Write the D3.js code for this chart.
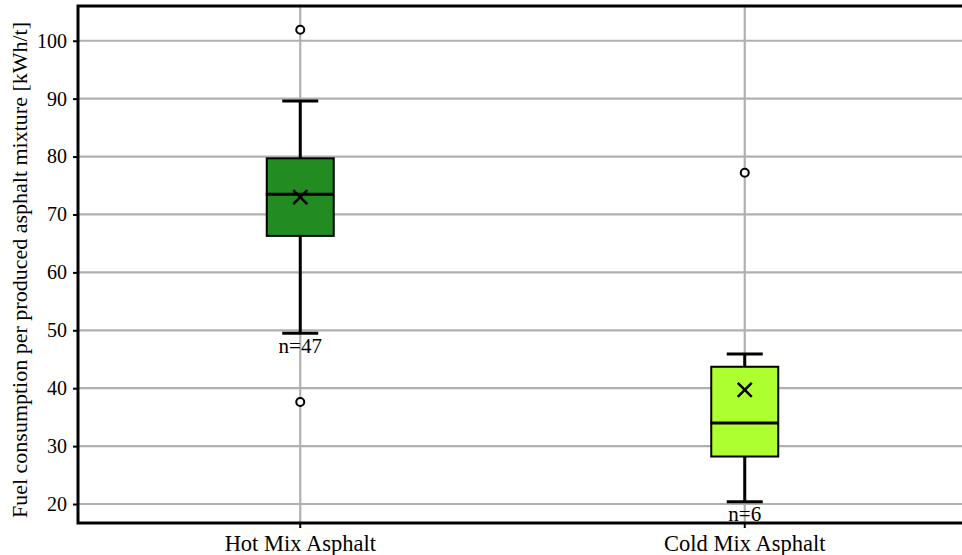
<!DOCTYPE html>
<html><head><meta charset="utf-8">
<script src="https://cdn.jsdelivr.net/npm/d3@7"></script>
<style>body{margin:0;background:#fff}svg{display:block}text{font-family:"Liberation Serif","Times New Roman",serif}</style>
</head><body>
<svg id="c" width="962" height="555"></svg>
<script>
const categories = ["Hot Mix Asphalt", "Cold Mix Asphalt"];
const whiskerLow = [49.5, 20.4];
const q1 = [66.3, 28.2];
const median = [73.5, 34.0];
const q3 = [79.7, 43.7];
const whiskerHigh = [89.6, 45.9];
const mean = [73.0, 39.7];
const outliers = [[101.9, 37.6], [77.2]];
const counts = ["n=47", "n=6"];
const colors = ["#228b22", "#adff2f"];
const yTicks = [20, 30, 40, 50, 60, 70, 80, 90, 100];

const svg = d3.select("#c");
const L = 78, R = 967, T = 6, B = 523;
const x = d3.scaleBand().domain(categories).range([L, R]);
const y = d3.scaleLinear().domain([16.72, 106.0]).range([B, T]);
const cx = c => x(c) + x.bandwidth() / 2;

// grid
svg.append("g").selectAll("line").data(yTicks).join("line")
  .attr("x1", L).attr("x2", R).attr("y1", d => y(d)).attr("y2", d => y(d))
  .attr("stroke", "#b0b0b0").attr("stroke-width", 2.2);
svg.append("g").selectAll("line").data(categories).join("line")
  .attr("x1", cx).attr("x2", cx).attr("y1", T).attr("y2", B)
  .attr("stroke", "#b0b0b0").attr("stroke-width", 2.2);

// axes
const ya = svg.append("g").attr("transform", `translate(${L},0)`)
  .call(d3.axisLeft(y).tickValues(yTicks).tickSize(5).tickPadding(6));
ya.attr("font-family", null);
ya.select(".domain").remove();
ya.selectAll(".tick line").attr("stroke", "#000").attr("stroke-width", 2);
ya.selectAll(".tick text").attr("font-size", 20).attr("fill", "#000");

const xa = svg.append("g").attr("transform", `translate(0,${B})`)
  .call(d3.axisBottom(x).tickSize(5));
xa.attr("font-family", null);
xa.select(".domain").remove();
xa.selectAll(".tick line").attr("stroke", "#000").attr("stroke-width", 2);
xa.selectAll(".tick text").attr("font-size", 22.5).attr("fill", "#000")
  .attr("y", 28).attr("dy", 0);

svg.append("text").attr("transform", `translate(27,270) rotate(-90)`)
  .attr("text-anchor", "middle").attr("font-size", 22)
  .text("Fuel consumption per produced asphalt mixture [kWh/t]");

// boxes
const bw = 67, cw = 36;
categories.forEach((c, i) => {
  const g = svg.append("g");
  const X = cx(c);
  g.append("line").attr("x1", X).attr("x2", X).attr("y1", y(whiskerHigh[i])).attr("y2", y(q3[i]))
    .attr("stroke", "#000").attr("stroke-width", 3);
  g.append("line").attr("x1", X).attr("x2", X).attr("y1", y(q1[i])).attr("y2", y(whiskerLow[i]))
    .attr("stroke", "#000").attr("stroke-width", 3);
  [whiskerHigh[i], whiskerLow[i]].forEach(v => g.append("line")
    .attr("x1", X - cw / 2).attr("x2", X + cw / 2).attr("y1", y(v)).attr("y2", y(v))
    .attr("stroke", "#000").attr("stroke-width", 3));
  g.append("rect").attr("x", X - bw / 2).attr("width", bw)
    .attr("y", y(q3[i])).attr("height", y(q1[i]) - y(q3[i]))
    .attr("fill", colors[i]).attr("stroke", "#000").attr("stroke-width", 2);
  g.append("line").attr("x1", X - bw / 2 - 1).attr("x2", X + bw / 2).attr("y1", y(median[i])).attr("y2", y(median[i]))
    .attr("stroke", "#000").attr("stroke-width", 3);
  const m = 7, my = y(mean[i]);
  g.append("path").attr("d", `M${X - m},${my - m}L${X + m},${my + m}M${X - m},${my + m}L${X + m},${my - m}`)
    .attr("stroke", "#000").attr("stroke-width", 2.5);
  outliers[i].forEach(v => g.append("circle").attr("cx", X).attr("cy", y(v)).attr("r", 4)
    .attr("fill", "#fff").attr("stroke", "#000").attr("stroke-width", 2));
  g.append("text").attr("x", X).attr("y", y(whiskerLow[i]) + 19.5).attr("text-anchor", "middle")
    .attr("font-size", 21).text(counts[i]);
});

// frame
svg.append("rect").attr("x", L).attr("y", T).attr("width", R - L).attr("height", B - T)
  .attr("fill", "none").attr("stroke", "#000").attr("stroke-width", 3);
</script>
</body></html>
